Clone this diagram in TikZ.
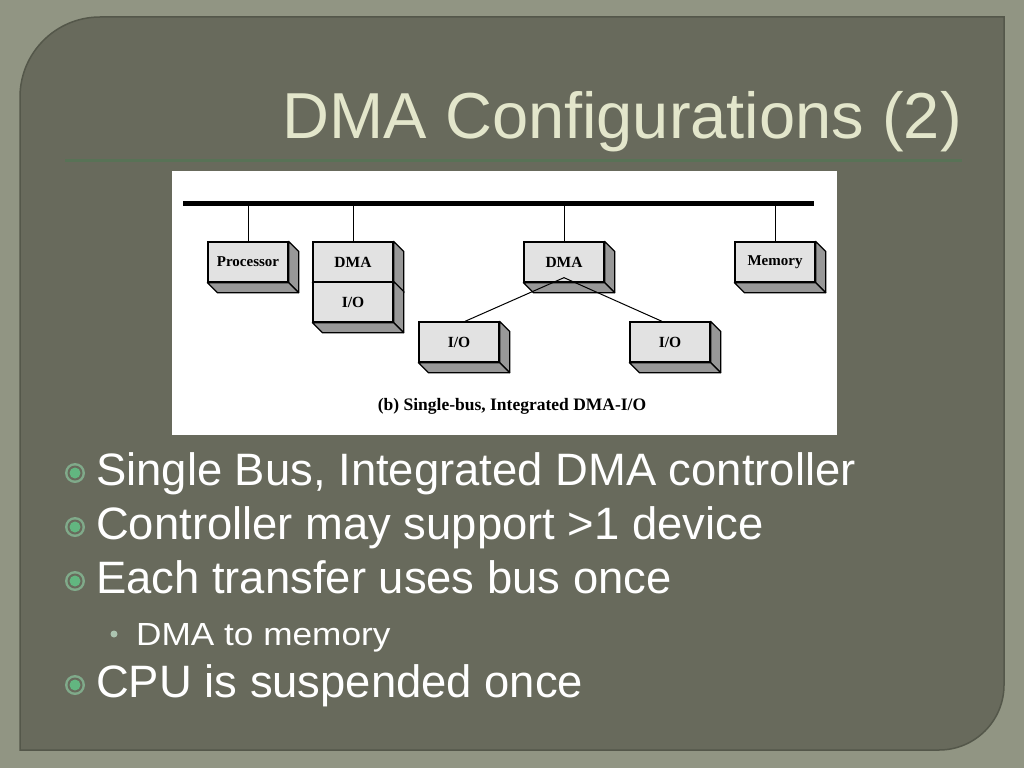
\documentclass[tikz,border=0pt]{standalone}
\usepackage{fontspec}
\setmainfont{Liberation Serif}
\newfontfamily\slidefont{Liberation Sans}
\newfontfamily\subfont[FakeStretch=1.1]{Liberation Sans}
\usepackage{tikz}

\definecolor{outerbg}{RGB}{145,149,131}
\definecolor{panelbg}{RGB}{104,106,92}
\definecolor{paneledge}{RGB}{84,87,74}
\definecolor{titlecol}{RGB}{227,230,203}
\definecolor{rulecol}{RGB}{88,114,86}
\definecolor{ringcol}{RGB}{128,170,138}
\definecolor{dotcol}{RGB}{98,182,128}
\definecolor{subdot}{RGB}{172,196,176}
\definecolor{facegray}{RGB}{226,226,226}
\definecolor{sidegray}{RGB}{152,152,152}

\tikzset{
  unitface/.style={draw=black, line width=1.3pt, fill=facegray, minimum width=80pt,
    minimum height=40pt, inner sep=0pt, font=\fontsize{15.5}{15.5}\selectfont\bfseries},
  unitside/.style={draw=black, line width=1.3pt, fill=sidegray, line join=round},
  wire/.style={draw=black, line width=1pt},
  bullettext/.style={anchor=base west, inner sep=0pt, text=white,
    font=\slidefont\fontsize{45.4}{45.4}\selectfont},
  subtext/.style={anchor=base west, inner sep=0pt, text=white,
    font=\subfont\fontsize{32}{32}\selectfont}
}

% front face as a node, side and bottom faces from its anchors
\newcommand{\unitbox}[4]{%
  \node[unitface] (#1) at (#2,#3) {#4};
  \filldraw[unitside] (#1.north east) -- ([shift={(10,10)}]#1.north east)
    -- ([shift={(10,10)}]#1.south east) -- (#1.south east) -- cycle;
  \filldraw[unitside] (#1.south west) -- ([shift={(10,10)}]#1.south west)
    -- ([shift={(10,10)}]#1.south east) -- (#1.south east) -- cycle;
}

\newcommand{\ringbullet}[2]{%
  \fill[ringcol] (#1,#2) circle (10);
  \fill[panelbg] (#1,#2) circle (7.5);
  \fill[dotcol] (#1,#2) circle (5.5);
}

\begin{document}
\begin{tikzpicture}[x=1pt,y=-1pt]
\useasboundingbox (0,0) rectangle (1024,768);
\fill[outerbg] (0,0) rectangle (1024,768);

% slide panel
\filldraw[fill=panelbg, draw=paneledge, line width=1.5pt] (20,750) -- (20,97)
  arc[start angle=180, end angle=270, radius=80] -- (1004,17) -- (1004,685)
  arc[start angle=0, end angle=90, radius=65] -- cycle;

% title
\node[anchor=base east, inner sep=0pt, text=titlecol,
  font=\slidefont\fontsize{65}{65}\selectfont] (title) at (962,138) {DMA Configurations (2)};
\draw[rulecol, line width=2.5pt] (65,160.5) -- (962,160.5);

% figure
\fill[white] (172,171) rectangle (837,435);
\coordinate (busL) at (183,203.5);
\coordinate (busR) at (814,203.5);
\draw[line width=5pt] (busL) -- (busR);

\unitbox{proc}{248}{262}{\fontsize{15}{15}\selectfont Processor}
\unitbox{dmaA}{353}{262}{DMA}
\unitbox{ioA}{353}{302}{I/O}
\unitbox{dmaB}{564}{262}{DMA}
\unitbox{mem}{775}{262}{\fontsize{15}{15}\selectfont Memory}
\unitbox{ioB}{459}{342}{I/O}
\unitbox{ioC}{670}{342}{I/O}

\draw[wire] (proc.north) -- (proc.north |- busL);
\draw[wire] (dmaA.north) -- (dmaA.north |- busL);
\draw[wire] (dmaB.north) -- (dmaB.north |- busL);
\draw[wire] (mem.north) -- (mem.north |- busL);

\coordinate (fork) at ([yshift=5]dmaB.south);
\draw[wire] (fork) -- ([xshift=6]ioB.north);
\draw[wire] (fork) -- ([xshift=-8]ioC.north);

\node[anchor=base, inner sep=0pt, font=\fontsize{17.5}{17.5}\selectfont\bfseries] (caption)
  at (512,410) {(b) Single-bus, Integrated DMA-I/O};

% bullets
\ringbullet{75}{473}
\node[bullettext] (b1) at (96,485) {Single Bus, Integrated DMA controller};
\ringbullet{75}{527}
\node[bullettext] (b2) at (96,539) {Controller may support >1 device};
\ringbullet{75}{581}
\node[bullettext] (b3) at (96,593) {Each transfer uses bus once};
\fill[subdot] (114,634) circle (3.5);
\node[subtext] (b4) at (136,645) {DMA to memory};
\ringbullet{75}{685}
\node[bullettext] (b5) at (96,697) {CPU is suspended once};
\end{tikzpicture}
\end{document}
